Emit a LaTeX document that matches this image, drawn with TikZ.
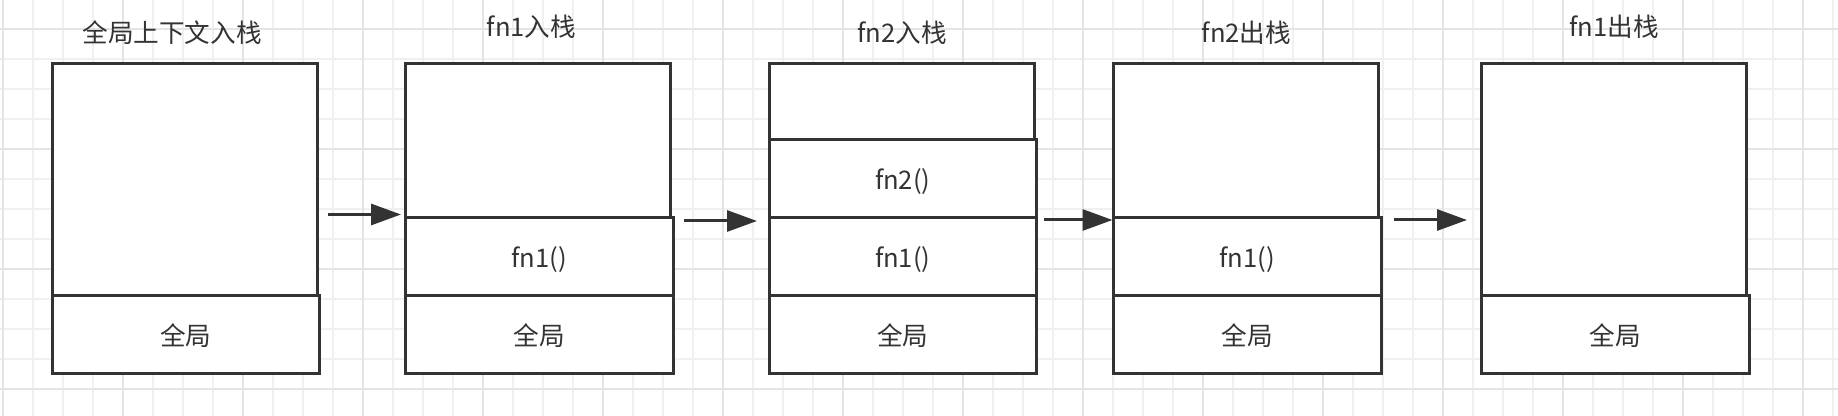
\documentclass[tikz,border=0pt]{standalone}
\usepackage{fontspec}
\setmainfont{Noto Sans CJK SC}
\usepackage{tikz}
\usetikzlibrary{arrows.meta}
\definecolor{ink}{HTML}{333333}
\definecolor{minorgrid}{HTML}{F0F0F0}
\definecolor{majorgrid}{HTML}{E4E4E4}
\tikzset{
	lid/.style={draw=ink,line width=1.5pt,fill=white,anchor=north west,inner sep=0pt,outer sep=0pt,minimum width=132.5pt},
	slot/.style={draw=ink,line width=1.5pt,fill=white,anchor=north west,inner sep=0pt,outer sep=0pt,minimum width=133.75pt,minimum height=39pt,text=ink,text height=10.8pt,text depth=0pt,font=\fontsize{12.8pt}{15pt}\selectfont},
	title/.style={text=ink,inner sep=0pt,font=\fontsize{12.8pt}{15pt}\selectfont},
	push/.style={draw=ink,line width=1.5pt,-{Triangle[length=15pt,width=10.5pt]}}
}

\begin{document}
\begin{tikzpicture}[x=0.5pt,y=-0.5pt]
						\useasboundingbox (0,0) rectangle (1838,416);
						\fill[white] (0,0) rectangle (1838,416);
						% grid
						\foreach \gx in {3,33,...,1838} \draw[minorgrid,line width=0.8pt] (\gx,0) -- (\gx,416);
						\foreach \gy in {29.3,59.3,...,416} \draw[minorgrid,line width=0.8pt] (0,\gy) -- (1838,\gy);
						\foreach \gx in {3,123,...,1838} \draw[majorgrid,line width=1pt] (\gx,0) -- (\gx,416);
						\foreach \gy in {29.3,149.3,...,416} \draw[majorgrid,line width=1pt] (0,\gy) -- (1838,\gy);
						
						% titles
						\node [title] (h0) at (172,33) {全局上下文入栈};
						\node [title] (h1) at (531.5,26.7) {fn1入栈};
						\node [title] (h2) at (902,33) {fn2入栈};
						\node [title] (h3) at (1246.5,33) {fn2出栈};
						\node [title] (h4) at (1614,26.7) {fn1出栈};
						
						% stacks
						\node [lid,minimum height=116pt] (g0) at (52,64) {};
						\node [slot] (g1) at (g0.south west) {全局};
						
						\node [lid,minimum height=77pt] (a0) at (405.5,64) {};
						\node [slot] (a1) at (a0.south west) {fn1()};
						\node [slot] (a2) at (a1.south west) {全局};
						
						\node [lid,minimum height=38pt] (b0) at (769,64) {};
						\node [slot] (b1) at (b0.south west) {fn2()};
						\node [slot] (b2) at (b1.south west) {fn1()};
						\node [slot] (b3) at (b2.south west) {全局};
						
						\node [lid,minimum height=77pt] (c0) at (1113.5,64) {};
						\node [slot] (c1) at (c0.south west) {fn1()};
						\node [slot] (c2) at (c1.south west) {全局};
						
						\node [lid,minimum height=116pt] (d0) at (1481.5,64) {};
						\node [slot] (d1) at (d0.south west) {全局};
						
						% arrows
						\coordinate (p1) at (328,214.5);
						\coordinate (q1) at (401,214.5);
						\coordinate (p2) at (684,221);
						\coordinate (q2) at (757,221);
						\coordinate (p3) at (1044,220);
						\coordinate (q3) at (1112.5,220);
						\coordinate (p4) at (1394,220);
						\coordinate (q4) at (1467,220);
						\draw [push] (p1) -- (q1);
						\draw [push] (p2) -- (q2);
						\draw [push] (p3) -- (q3);
						\draw [push] (p4) -- (q4);
\end{tikzpicture}
\end{document}
